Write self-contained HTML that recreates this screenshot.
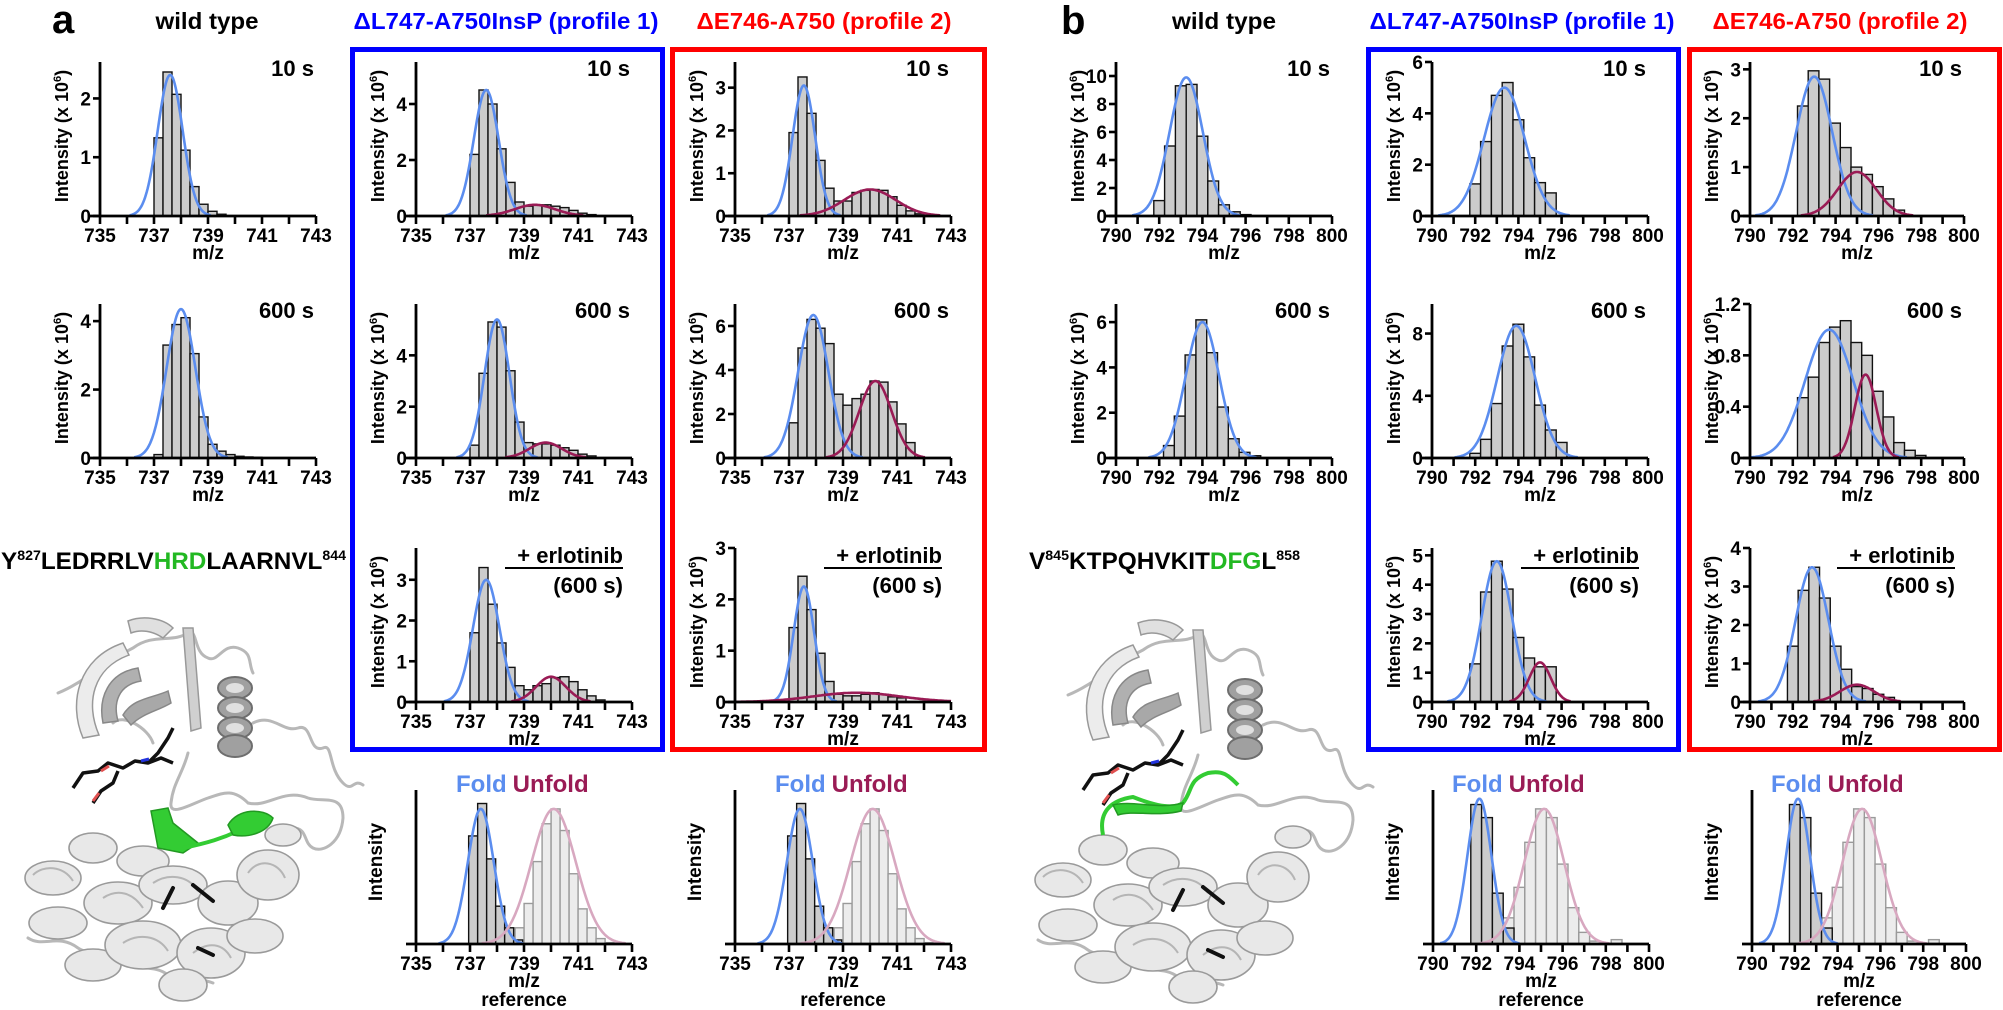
<!DOCTYPE html>
<html><head><meta charset="utf-8"><style>
html,body{margin:0;padding:0;background:#fff}
svg{display:block;font-family:"Liberation Sans",Arial,sans-serif;font-weight:bold}
</style></head><body>
<svg id="s" width="2003" height="1010" viewBox="0 0 2003 1010" xmlns="http://www.w3.org/2000/svg">
<defs>
<g id="prot">
  <g fill="none" stroke="#b8b8b8" stroke-width="3" stroke-linecap="round">
    <path d="M35,90 C60,80 80,60 110,45 C130,30 150,40 165,30 C175,25 170,50 185,55 C195,60 200,40 215,45 C230,50 225,60 230,70"/>
    <path d="M230,120 C250,110 260,130 275,125 C290,120 285,150 300,145 C310,140 305,165 320,180 C330,190 330,175 340,182"/>
    <path d="M165,150 C160,170 150,180 148,200 C146,215 170,200 185,195 C200,190 210,185 225,200 C245,205 260,185 285,195 C300,200 320,190 320,215 C318,240 300,250 290,245 C280,240 285,225 270,225"/>
    <path d="M5,335 C20,345 35,330 55,345 C70,355 80,340 95,355 C110,370 130,360 145,372 C160,385 170,372 190,380"/>
    <path d="M90,120 C100,110 125,125 130,140"/>
  </g>
  <path d="M60,135 C45,100 55,55 100,40 L106,52 C70,65 62,100 76,132 Z" fill="#ececec" stroke="#999" stroke-width="1.5"/>
  <path d="M80,120 C75,95 85,70 115,65 L118,78 C95,82 90,100 95,118 Z" fill="#b0b0b0" stroke="#888" stroke-width="1.5"/>
  <path d="M100,112 C110,95 130,95 145,88 L148,100 C135,108 120,110 108,122 Z" fill="#a8a8a8" stroke="#888" stroke-width="1.5"/>
  <path d="M160,25 L170,25 L178,125 L168,128 Z" fill="#d0d0d0" stroke="#999" stroke-width="1.5"/>
  <path d="M105,18 C120,12 140,15 150,25 L140,35 C130,28 118,26 108,30 Z" fill="#e0e0e0" stroke="#999" stroke-width="1.5"/>
  <g fill="#a0a0a0" stroke="#6e6e6e" stroke-width="2">
    <ellipse cx="212" cy="85" rx="17" ry="11"/>
    <ellipse cx="212" cy="105" rx="17" ry="11"/>
    <ellipse cx="212" cy="125" rx="17" ry="11"/>
    <ellipse cx="212" cy="143" rx="17" ry="11"/>
  </g>
  <g fill="#e0e0e0" stroke="none">
    <ellipse cx="212" cy="85" rx="9" ry="5"/><ellipse cx="212" cy="105" rx="9" ry="5"/><ellipse cx="212" cy="125" rx="9" ry="5"/>
  </g>
  <g fill="none" stroke="#111" stroke-width="3.5" stroke-linejoin="round">
    <path d="M50,185 L60,170 L75,168 L85,160 L100,165 L112,158 L125,160 L138,155 L150,160"/>
    <path d="M70,200 L78,188 L90,180 L95,168"/>
    <path d="M125,160 L135,150 L145,135 L150,125"/>
  </g>
  <g fill="none" stroke="#e05050" stroke-width="3"><path d="M78,168 L86,163"/><path d="M70,198 L76,190"/></g>
  <path d="M118,158 L126,156" stroke="#2233dd" stroke-width="3"/>
  <g fill="#e8e8e8" stroke="#9a9a9a" stroke-width="1.6">
    <ellipse cx="30" cy="275" rx="28" ry="17"/>
    <ellipse cx="70" cy="245" rx="24" ry="15"/>
    <ellipse cx="35" cy="320" rx="29" ry="16"/>
    <ellipse cx="260" cy="232" rx="18" ry="11"/>
    <ellipse cx="120" cy="258" rx="26" ry="15"/>
    <ellipse cx="95" cy="300" rx="34" ry="21"/>
    <ellipse cx="150" cy="282" rx="34" ry="19"/>
    <ellipse cx="205" cy="300" rx="30" ry="22"/>
    <ellipse cx="245" cy="272" rx="31" ry="25"/>
    <ellipse cx="70" cy="362" rx="28" ry="16"/>
    <ellipse cx="120" cy="342" rx="38" ry="24"/>
    <ellipse cx="188" cy="350" rx="34" ry="25"/>
    <ellipse cx="232" cy="333" rx="28" ry="17"/>
    <ellipse cx="160" cy="382" rx="24" ry="16"/>
  </g>
  <g fill="none" stroke="#b5b5b5" stroke-width="2">
    <path d="M10,272 C20,262 40,262 50,278"/><path d="M80,295 C95,285 110,290 120,305"/>
    <path d="M130,280 C145,270 165,272 175,288"/><path d="M225,270 C235,255 255,258 262,275"/>
    <path d="M100,340 C115,330 135,332 145,348"/><path d="M170,350 C185,338 200,340 208,355"/>
  </g>
  <g stroke="#111" stroke-width="4" stroke-linecap="round"><path d="M150,285 L140,305"/><path d="M170,282 L190,298"/><path d="M175,345 L190,352"/></g>
</g>
</defs>
</svg>
<script>
var S=document.getElementById('s'),NS='http://www.w3.org/2000/svg';
function el(t,a,txt,p){var e=document.createElementNS(NS,t);for(var k in a)e.setAttribute(k,a[k]);if(txt!=null)e.textContent=txt;(p||S).appendChild(e);return e;}
function gs(m,s,a){return function(x){return a*Math.exp(-(x-m)*(x-m)/(2*s*s));};}
var BLUE='#5b8def',PUR='#9a1b55',PINK='#d8a8c0';
function plot(o){
  var W=o.W||216,H=154,ox=o.x,oy=o.y;
  var X=function(v){return ox+(v-o.xmin)/(o.xmax-o.xmin)*W;};
  var Y=function(v){return oy-v/o.ymax*H;};
  (o.bars||[]).forEach(function(b){
    var bw=b.w, st=b.s;
    b.h.forEach(function(h,i){ if(h<=0)return; var x0=X(st+i*bw),x1=X(st+(i+1)*bw);
      el('rect',{x:x0,y:Y(h),width:x1-x0,height:oy-Y(h),fill:b.fill||'#cccccc',stroke:b.stroke||'#111','stroke-width':b.sw||1.4});});
  });
  (o.curves||[]).forEach(function(c){
    var d='',n=240;for(var i=0;i<=n;i++){var v=o.xmin+(o.xmax-o.xmin)*i/n;var y=c.f(v);if(y<0.004*o.ymax&&!c.full)continue;d+=(d?'L':'M')+X(v).toFixed(1)+','+Y(y).toFixed(1);}
    el('path',{d:d,fill:'none',stroke:c.c,'stroke-width':2.6});
  });
  el('path',{d:'M'+(ox-10)+','+oy+'H'+(ox+W)+'M'+ox+','+oy+'V'+(oy-H),stroke:'#000','stroke-width':2.8,fill:'none'});
  var n=(o.xmax-o.xmin)/o.minor;
  for(var i=0;i<=n;i++){var v=o.xmin+i*o.minor;var xx=X(v);el('path',{d:'M'+xx+','+oy+'v8',stroke:'#000','stroke-width':2.6});
    if(Math.round((v-o.xmin)/o.major*1000)%1000==0)el('text',{x:xx,y:oy+26,'text-anchor':'middle','font-size':19},String(v));}
  el('text',{x:ox+W/2,y:oy+43,'text-anchor':'middle','font-size':19},'m/z');
  if(o.ref){
    el('text',{x:ox+W/2,y:oy+62,'text-anchor':'middle','font-size':19},'reference');
    el('text',{x:0,y:0,'text-anchor':'middle','font-size':19,transform:'translate('+(ox-34)+','+(oy-82)+') rotate(-90)'},'Intensity');
  } else {
    (o.yt||[]).forEach(function(v){var yy=Y(v);el('path',{d:'M'+(ox-7)+','+yy+'H'+ox,stroke:'#000','stroke-width':2.6});
      el('text',{x:ox-9,y:yy+7,'text-anchor':'end','font-size':19},String(v));});
    var t=el('text',{x:0,y:0,'text-anchor':'middle','font-size':18,transform:'translate('+(ox-32)+','+(oy-80)+') rotate(-90)'});
    t.appendChild(document.createTextNode('Intensity (x 10'));
    el('tspan',{'font-size':11,dy:-7},'6',t);
    el('tspan',{dy:7},')',t);
  }
  if(o.lab){el('text',{x:ox+W-2,y:oy-140,'text-anchor':'end','font-size':22},o.lab);}
  if(o.erl){var r=ox+W-9;el('text',{x:r,y:oy-139,'text-anchor':'end','font-size':22},'+ erlotinib');
    el('path',{d:'M'+(r-118)+','+(oy-134)+'H'+r,stroke:'#000','stroke-width':2});
    el('text',{x:r,y:oy-109,'text-anchor':'end','font-size':22},'(600 s)');}
  if(o.fold){var fx=ox+o.fold;var t=el('text',{x:fx,y:oy-152,'font-size':24});
    el('tspan',{fill:BLUE},'Fold',t);el('tspan',{fill:PUR,dx:6},'Unfold',t);}
}
var A={xmin:735,xmax:743,minor:1,major:2},B={xmin:790,xmax:800,minor:1,major:2};
function P(base,o){for(var k in base)o[k]=base[k];plot(o);}
var R=[216,458,702,944];
var k=1.4;
P(A,{x:100,y:R[0],ymax:2.62,yt:[0,1,2],lab:'10 s',bars:[{s:737,w:1/3,h:[1.33,2.45,2.07,1.12,0.5,0.2,0.08,0.03]}],curves:[{f:gs(737.6,0.33*k,2.4),c:BLUE}]});
P(A,{x:100,y:R[1],ymax:4.5,yt:[0,2,4],lab:'600 s',bars:[{s:737,w:1/3,h:[0.1,3.3,3.9,4.1,3.05,1.2,0.4,0.2,0.1,0.05,0.03,0.02]}],curves:[{f:gs(738.0,0.38*k,4.35),c:BLUE}]});
P(A,{x:416,y:R[0],ymax:5.5,yt:[0,2,4],lab:'10 s',bars:[{s:737,w:1/3,h:[2.2,4.5,4.0,2.4,1.2,0.5,0.35,0.4,0.4,0.35,0.3,0.2,0.1,0.05]}],curves:[{f:gs(737.6,0.33*k,4.5),c:BLUE},{f:gs(739.4,0.75,0.4),c:PUR}]});
P(A,{x:416,y:R[1],ymax:6,yt:[0,2,4],lab:'600 s',bars:[{s:737,w:1/3,h:[0.5,3.3,5.3,5.1,3.4,1.4,0.6,0.55,0.55,0.5,0.4,0.3,0.15,0.08]}],curves:[{f:gs(738.0,0.33*k,5.4),c:BLUE},{f:gs(739.8,0.6,0.6),c:PUR}]});
P(A,{x:416,y:R[2],ymax:3.78,yt:[0,1,2,3],erl:1,bars:[{s:737,w:1/3,h:[1.7,3.3,2.4,1.45,0.85,0.4,0.3,0.4,0.45,0.6,0.62,0.5,0.3,0.15,0.05]}],curves:[{f:gs(737.6,0.35*k,3.0),c:BLUE},{f:gs(740.0,0.55,0.62),c:PUR}]});
P(A,{x:735,y:R[0],ymax:3.6,yt:[0,1,2,3],lab:'10 s',bars:[{s:737,w:1/3,h:[1.95,3.25,2.4,1.3,0.65,0.35,0.35,0.55,0.6,0.62,0.6,0.45,0.25,0.12,0.05]}],curves:[{f:gs(737.55,0.3*k,3.05),c:BLUE},{f:gs(740.0,0.95,0.62),c:PUR}]});
P(A,{x:735,y:R[1],ymax:7,yt:[0,2,4,6],lab:'600 s',bars:[{s:737,w:1/3,h:[1.6,5.0,6.3,5.9,5.2,2.9,2.4,2.7,2.9,3.5,3.45,2.55,1.55,0.7]}],curves:[{f:gs(737.9,0.4*k,6.5),c:BLUE},{f:gs(740.2,0.6,3.5),c:PUR}]});
P(A,{x:735,y:R[2],ymax:3,yt:[0,1,2,3],erl:1,bars:[{s:737,w:1/3,h:[1.45,2.45,1.8,0.95,0.4,0.15,0.12,0.12,0.15,0.18,0.15,0.1,0.08]}],curves:[{f:gs(737.55,0.27*k,2.25),c:BLUE},{f:gs(739.5,1.6,0.18),c:PUR,full:1}]});
var refA={ymax:1.14,ref:1,fold:40,bars:[{s:738.67,w:1/3,h:[0.12,0.3,0.61,0.89,1.0,0.84,0.52,0.26,0.12,0.04,0.01],fill:'#ececec',stroke:'#9a9a9a'},{s:736.95,w:1/3,h:[0.8,1.04,0.63,0.28,0.12,0.03]}],curves:[{f:gs(737.4,0.48,1.0),c:BLUE},{f:gs(740.1,0.82,1.0),c:PINK}]};
P(A,Object.assign({x:416,y:R[3]},refA));
P(A,Object.assign({x:735,y:R[3]},refA));
P(B,{x:1116,y:R[0],ymax:11,yt:[0,2,4,6,8,10],lab:'10 s',bars:[{s:791.75,w:0.5,h:[1.1,5.0,9.3,9.4,5.7,2.5,0.8,0.3,0.1]}],curves:[{f:gs(793.25,0.55*k,9.9),c:BLUE}]});
P(B,{x:1116,y:R[1],ymax:6.8,yt:[0,2,4,6],lab:'600 s',bars:[{s:792.2,w:0.5,h:[0.55,1.85,4.55,6.1,4.65,2.25,0.85,0.25,0.1]}],curves:[{f:gs(794.0,0.55*k,6.0),c:BLUE}]});
P(B,{x:1432,y:R[0],ymax:6,yt:[0,2,4,6],lab:'10 s',bars:[{s:791.75,w:0.5,h:[1.25,2.9,4.7,5.2,3.75,2.27,1.3,0.9]}],curves:[{f:gs(793.35,0.75*1.25,5.0),c:BLUE}]});
P(B,{x:1432,y:R[1],ymax:9.9,yt:[0,4,8],lab:'600 s',bars:[{s:791.75,w:0.5,h:[0.3,1.2,3.5,7.2,8.6,6.5,3.4,1.8,1.0]}],curves:[{f:gs(793.9,0.7*1.25,8.5),c:BLUE}]});
P(B,{x:1432,y:R[2],ymax:5.25,yt:[0,1,2,3,4,5],erl:1,bars:[{s:791.75,w:0.5,h:[1.3,3.75,4.8,3.85,2.2,1.5,1.2,1.2]}],curves:[{f:gs(793.0,0.5*k,4.8),c:BLUE},{f:gs(795.0,0.5,1.35),c:PUR}]});
P(B,{x:1750,y:R[0],W:214,ymax:3.15,yt:[0,1,2,3],lab:'10 s',bars:[{s:792.22,w:0.5,h:[2.25,2.97,2.8,1.9,1.4,1.0,0.85,0.6,0.35,0.12]}],curves:[{f:gs(793.0,0.6*k,2.85),c:BLUE},{f:gs(795.0,0.9,0.9),c:PUR}]});
P(B,{x:1750,y:R[1],W:214,ymax:1.2,yt:[0,0.4,0.8,1.2],lab:'600 s',bars:[{s:792.22,w:0.5,h:[0.47,0.63,0.9,1.02,1.07,0.9,0.8,0.52,0.32,0.12,0.06,0.02]}],curves:[{f:gs(793.7,0.8*k,1.0),c:BLUE},{f:gs(795.4,0.5,0.65),c:PUR}]});
P(B,{x:1750,y:R[2],W:214,ymax:4,yt:[0,1,2,3,4],erl:1,bars:[{s:791.75,w:0.5,h:[1.45,2.9,3.5,2.7,1.45,0.85,0.4,0.35,0.2,0.12]}],curves:[{f:gs(792.9,0.55*k,3.5),c:BLUE},{f:gs(795.0,0.8,0.45),c:PUR}]});
var refB={ymax:1.06,ref:1,fold:19,bars:[{s:792.75,w:0.5,h:[0.1,0.18,0.39,0.7,0.93,0.87,0.55,0.25,0.08,0.02,0,0.03],fill:'#ececec',stroke:'#9a9a9a'},{s:791.75,w:0.5,h:[0.96,0.87,0.35,0.11]}],curves:[{f:gs(792.15,0.56,1.0),c:BLUE},{f:gs(795.15,0.92,0.93),c:PINK}]};
P(B,Object.assign({x:1433,y:R[3]},refB));
P(B,Object.assign({x:1752,y:R[3],W:214},refB));
[[352.5,310,'#0000ff'],[672.5,312,'#ff0000'],[1368.5,310,'#0000ff'],[1689.5,310,'#ff0000']].forEach(function(b){
  el('rect',{x:b[0],y:49.5,width:b[1],height:700,fill:'none',stroke:b[2],'stroke-width':5});});
el('text',{x:52,y:33,'font-size':40},'a');
el('text',{x:1061,y:34,'font-size':40},'b');
function title(cx,w,t,c){el('text',{x:cx,y:29,'text-anchor':'middle','font-size':23,fill:c,textLength:w,lengthAdjust:'spacingAndGlyphs'},t);}
title(207,103,'wild type','#000');title(506,305,'\u0394L747-A750InsP (profile 1)','#0000ff');title(824,255,'\u0394E746-A750 (profile 2)','#ff0000');
title(1224,104,'wild type','#000');title(1522,305,'\u0394L747-A750InsP (profile 1)','#0000ff');title(1840,255,'\u0394E746-A750 (profile 2)','#ff0000');
function pep(x,w,parts){var t=el('text',{x:x,y:569,'font-size':24,textLength:w,lengthAdjust:'spacingAndGlyphs'});
  parts.forEach(function(p){var a={};if(p[1])a.fill=p[1];if(p[2]){a['font-size']=14;a.dy=-9;}if(p[3]){a.dy=9;}el('tspan',a,p[0],t);});}
pep(1,345,[['Y'],['827',0,1],['LEDRRLV',0,0,1],['HRD','#22b822'],['LAARNVL'],['844',0,1]]);
pep(1029,271,[['V'],['845',0,1],['KTPQHVKIT',0,0,1],['DFG','#22b822'],['L'],['858',0,1]]);
el('use',{href:'#prot',transform:'translate(23,603)'});
el('use',{href:'#prot',transform:'translate(1033,605)'});
el('path',{d:'M128,208 L145,205 L150,220 L175,240 L160,250 L135,245 Z',fill:'#33cc33',stroke:'#229922','stroke-width':1.5,transform:'translate(23,603)'});
el('path',{d:'M160,245 C185,240 200,235 215,228',fill:'none',stroke:'#33cc33','stroke-width':4,transform:'translate(23,603)'});
el('path',{d:'M205,222 C215,205 240,205 250,215 C245,230 225,235 210,232 Z',fill:'#33cc33',stroke:'#229922','stroke-width':1.5,transform:'translate(23,603)'});
el('path',{d:'M70,230 C65,205 80,195 100,192 C120,200 140,205 150,198 C160,185 155,175 175,168 C190,165 195,170 205,180',fill:'none',stroke:'#33cc33','stroke-width':4,transform:'translate(1033,605)'});
el('path',{d:'M80,200 C100,195 125,205 150,198 L148,206 C125,212 100,205 85,210 Z',fill:'#33cc33',stroke:'#229922','stroke-width':1.5,transform:'translate(1033,605)'});
</script>
</body></html>
